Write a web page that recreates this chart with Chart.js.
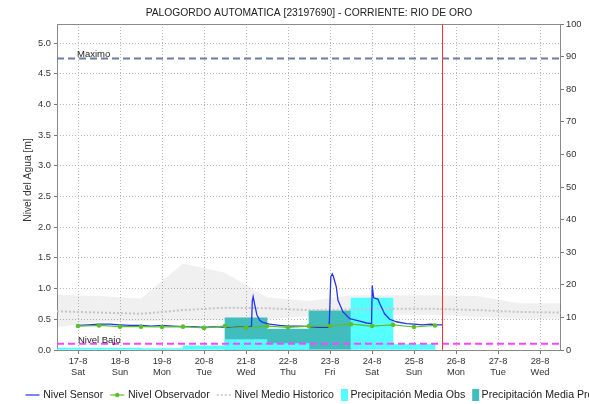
<!DOCTYPE html>
<html>
<head>
<meta charset="utf-8">
<script src="https://cdn.jsdelivr.net/npm/chart.js@4.4.1/dist/chart.umd.min.js"></script>
<style>
  html, body { margin: 0; padding: 0; background: #ffffff; overflow: hidden; }
  #grafico { display: block; }
</style>
</head>
<body>
<canvas id="grafico" width="589" height="404"></canvas>
<script>
// Días del eje X (día de agosto) y sus etiquetas
const dias = [17, 18, 19, 20, 21, 22, 23, 24, 25, 26, 27, 28];
const etiquetasDia = ['17-8', '18-8', '19-8', '20-8', '21-8', '22-8', '23-8', '24-8', '25-8', '26-8', '27-8', '28-8'];
const diasSemana = ['Sat', 'Sun', 'Mon', 'Tue', 'Wed', 'Thu', 'Fri', 'Sat', 'Sun', 'Mon', 'Tue', 'Wed'];

// Marcas del eje de nivel [m] y del eje de precipitación [mm]
const ticksNivel = [0, 0.5, 1, 1.5, 2, 2.5, 3, 3.5, 4, 4.5, 5];
const ticksPrecip = [0, 10, 20, 30, 40, 50, 60, 70, 80, 90, 100];

// Umbrales y hora actual (día decimal)
const nivelMaximo = 4.75;
const nivelBajo = 0.1;
const horaActual = 25.667;

// Nivel Sensor (tiempo en días decimales, nivel en m)
const sensorTiempo = [17.00, 17.25, 17.50, 17.75, 18.00, 18.25, 18.50, 18.75, 19.00, 19.25, 19.50, 19.75,
  20.00, 20.25, 20.50, 20.75, 21.00, 21.13, 21.15, 21.17, 21.21, 21.26, 21.33, 21.40, 21.56, 21.80,
  22.00, 22.30, 22.50, 22.70, 22.85, 22.98, 23.02, 23.055, 23.08, 23.15, 23.19, 23.31, 23.47, 23.71,
  23.87, 23.99, 24.005, 24.04, 24.14, 24.18, 24.30, 24.42, 24.58, 24.82, 25.00, 25.20, 25.40, 25.55, 25.667];
const sensorNivel = [0.40, 0.41, 0.42, 0.42, 0.41, 0.40, 0.40, 0.39, 0.40, 0.39, 0.38, 0.38,
  0.37, 0.38, 0.37, 0.38, 0.37, 0.38, 0.80, 0.87, 0.73, 0.57, 0.48, 0.45, 0.42, 0.40,
  0.39, 0.39, 0.38, 0.37, 0.37, 0.37, 1.20, 1.24, 1.20, 1.03, 0.81, 0.62, 0.51, 0.47,
  0.44, 0.43, 1.05, 0.85, 0.83, 0.76, 0.59, 0.50, 0.46, 0.43, 0.42, 0.41, 0.42, 0.41, 0.41];

// Nivel Observador (dos lecturas por día)
const obsTiempo = [17, 17.5, 18, 18.5, 19, 19.5, 20, 20.5, 21, 21.5, 22, 22.5, 23, 23.5, 24, 24.5, 25, 25.5];
const obsNivel = [0.39, 0.40, 0.38, 0.38, 0.375, 0.38, 0.36, 0.39, 0.36, 0.39, 0.37, 0.39, 0.39, 0.42, 0.39, 0.41, 0.375, 0.40];

// Histórico: medio, máximo y mínimo
const histTiempo = [16.5, 17.5, 18.5, 19.5, 20.5, 21.5, 22.5, 23.5, 24.5, 25.5, 26.5, 27.5, 28.5];
const histMedio = [0.63, 0.61, 0.59, 0.65, 0.69, 0.68, 0.65, 0.66, 0.67, 0.67, 0.65, 0.62, 0.61];
const histMax = [0.90, 0.88, 0.84, 1.41, 1.26, 0.86, 0.80, 0.89, 0.89, 0.89, 0.88, 0.76, 0.76];
const histMin = [0.37, 0.46, 0.47, 0.48, 0.49, 0.50, 0.55, 0.58, 0.58, 0.57, 0.54, 0.51, 0.51];

// Precipitación media diaria [mm]
const precipObsDias = [17, 18, 19, 20, 21, 22, 23, 24, 25];
const precipObs = [0.6, 0.6, 0.4, 1.3, 3.2, 2.0, 0, 15.9, 1.7];
const precipPrDias = [21, 22, 23];
const precipPr = [9.9, 6.4, 12.0];

const titulo = 'PALOGORDO AUTOMATICA [23197690] - CORRIENTE: RIO DE ORO';
const tituloEjeNivel = 'Nivel del Agua [m]';
const tituloEjePrecip = 'Precipitación [mm]';

const fuente = "'Liberation Sans', Arial, sans-serif";
const colorSensor = '#2433ee';
const colorObs = '#5cbf2a';
const colorMedio = '#c4c4c4';
const colorPrecipObs = '#55ffff';
const colorPrecipPr = '#41bdbd';
const colorRejilla = '#b8b8b8';

const puntos = (xs, ys) => xs.map((x, i) => ({ x: x, y: ys[i] }));
const rectaHorizontal = (y) => [{ x: 16.5, y: y }, { x: 28.5, y: y }];

// Título, leyenda inferior, marco, etiquetas de umbral y línea de hora actual
const extras = {
  id: 'extras',
  beforeDatasetsDraw(chart) {
    const { ctx, chartArea: a } = chart;
    ctx.save();
    ctx.strokeStyle = '#8a8a8a';
    ctx.lineWidth = 1;
    ctx.strokeRect(Math.round(a.left) + 0.5, Math.round(a.top) + 0.5,
      Math.round(a.right - a.left) - 1, Math.round(a.bottom - a.top));
    ctx.restore();
  },
  afterDatasetsDraw(chart) {
    const { ctx, chartArea: a, scales } = chart;
    ctx.save();
    ctx.font = '9.5px ' + fuente;
    ctx.fillStyle = '#222';
    ctx.textBaseline = 'alphabetic';
    ctx.fillText('Maximo', a.left + 20, scales.y.getPixelForValue(nivelMaximo) - 1.2);
    ctx.fillText('Nivel Bajo', a.left + 21, scales.y.getPixelForValue(nivelBajo) - 1.2);
    const xr = Math.round(scales.x.getPixelForValue(horaActual)) + 0.5;
    ctx.strokeStyle = '#ff3030';
    ctx.lineWidth = 1;
    ctx.beginPath();
    ctx.moveTo(xr, a.top);
    ctx.lineTo(xr, a.bottom);
    ctx.stroke();
    ctx.restore();
  },
  afterDraw(chart) {
    const { ctx, chartArea: a } = chart;
    ctx.save();
    ctx.fillStyle = '#222';
    ctx.font = '10.3px ' + fuente;
    ctx.textAlign = 'center';
    ctx.textBaseline = 'middle';
    ctx.fillText(titulo, (a.left + a.right) / 2, 13.5);

    ctx.fillStyle = '#333';
    ctx.save();
    ctx.translate(28, 180);
    ctx.rotate(-Math.PI / 2);
    ctx.fillText(tituloEjeNivel, 0, 0);
    ctx.restore();

    // título del eje derecho: queda casi entero fuera del lienzo
    ctx.save();
    ctx.translate(597, 187);
    ctx.rotate(-Math.PI / 2);
    ctx.textBaseline = 'alphabetic';
    ctx.fillText(tituloEjePrecip, 0, 0);
    ctx.restore();
    ctx.restore();

    ctx.save();
    ctx.font = '10.6px ' + fuente;
    ctx.textBaseline = 'middle';
    const y = 395;
    const items = [
      { tipo: 'linea', color: colorSensor, texto: 'Nivel Sensor' },
      { tipo: 'punto', color: colorObs, texto: 'Nivel Observador' },
      { tipo: 'guion', color: colorMedio, texto: 'Nivel Medio Historico' },
      { tipo: 'caja', color: colorPrecipObs, texto: 'Precipitación Media Obs' },
      { tipo: 'caja', color: colorPrecipPr, texto: 'Precipitación Media Pronosticada' }
    ];
    let x = 25.5;
    items.forEach(it => {
      let ancho;
      if (it.tipo === 'caja') {
        ctx.fillStyle = it.color;
        ctx.fillRect(x, y - 6, 7, 12);
        ancho = 9.4;
      } else {
        ctx.strokeStyle = it.color;
        ctx.lineWidth = it.tipo === 'guion' ? 1.5 : 1.2;
        ctx.setLineDash(it.tipo === 'guion' ? [2, 2] : []);
        ctx.beginPath();
        ctx.moveTo(x, y);
        ctx.lineTo(x + 14, y);
        ctx.stroke();
        ctx.setLineDash([]);
        if (it.tipo === 'punto') {
          ctx.fillStyle = it.color;
          ctx.beginPath();
          ctx.arc(x + 7, y, 2.2, 0, Math.PI * 2);
          ctx.fill();
        }
        ancho = 17.7;
      }
      ctx.fillStyle = '#222';
      ctx.fillText(it.texto, x + ancho, y);
      x += ancho + ctx.measureText(it.texto).width + 7;
    });
    ctx.restore();
  }
};

const linea = (extra) => Object.assign({ type: 'line', yAxisID: 'y', pointRadius: 0, tension: 0, fill: false }, extra);

new Chart(document.getElementById('grafico'), {
  type: 'bar',
  data: {
    datasets: [
      linea({ label: 'Nivel Observador', data: puntos(obsTiempo, obsNivel), borderColor: colorObs,
        backgroundColor: colorObs, borderWidth: 1.2, pointRadius: 2.3, pointBorderWidth: 0,
        pointBackgroundColor: colorObs, order: 1 }),
      linea({ label: 'Nivel Sensor', data: puntos(sensorTiempo, sensorNivel), borderColor: colorSensor,
        borderWidth: 1.3, order: 2 }),
      linea({ label: 'Maximo', data: rectaHorizontal(nivelMaximo), borderColor: '#6e7ba3',
        borderWidth: 2, borderDash: [7, 4], order: 0 }),
      linea({ label: 'Nivel Bajo', data: rectaHorizontal(nivelBajo), borderColor: '#ff44ff',
        borderWidth: 2, borderDash: [7, 4], order: 0 }),
      linea({ label: 'Nivel Medio Historico', data: puntos(histTiempo, histMedio), borderColor: colorMedio,
        borderWidth: 2, borderDash: [2, 2], order: 3 }),
      { type: 'bar', label: 'Precipitación Media Obs', yAxisID: 'y1', data: puntos(precipObsDias, precipObs),
        backgroundColor: colorPrecipObs, borderWidth: 0, grouped: false, barPercentage: 1,
        categoryPercentage: 1, order: 4 },
      { type: 'bar', label: 'Precipitación Media Pronosticada', yAxisID: 'y1', data: puntos(precipPrDias, precipPr),
        backgroundColor: colorPrecipPr, borderWidth: 0, grouped: false, barPercentage: 1,
        categoryPercentage: 1, order: 5 },
      linea({ label: 'Máximo Historico', data: puntos(histTiempo, histMax), borderColor: 'rgba(0,0,0,0)',
        borderWidth: 1, fill: '+1', backgroundColor: 'rgba(0,0,0,0.06)', order: 6 }),
      linea({ label: 'Mínimo Historico', data: puntos(histTiempo, histMin), borderColor: 'rgba(0,0,0,0)',
        borderWidth: 1, order: 7 })
    ]
  },
  options: {
    responsive: false,
    animation: false,
    devicePixelRatio: 1,
    layout: { padding: { top: 24, left: 0, right: 0, bottom: 0 } },
    plugins: {
      legend: { display: false },
      tooltip: { enabled: false },
      title: { display: false }
    },
    scales: {
      x: {
        type: 'linear',
        min: 16.5,
        max: 28.5,
        offset: false,
        afterBuildTicks: (s) => { s.ticks = dias.map(v => ({ value: v })); },
        afterFit: (s) => { s.height = 54; },
        grid: { offset: false, color: colorRejilla, lineWidth: 1, tickLength: 4, tickColor: '#777' },
        border: { display: false, dash: [1, 2] },
        ticks: {
          autoSkip: false, maxRotation: 0, padding: 2, color: '#333',
          font: { family: fuente, size: 9.3, lineHeight: 1.2 },
          callback: (v) => {
            const i = dias.indexOf(v);
            return i < 0 ? '' : [etiquetasDia[i], diasSemana[i]];
          }
        }
      },
      y: {
        position: 'left',
        min: 0,
        max: 5.31,
        afterBuildTicks: (s) => { s.ticks = ticksNivel.map(v => ({ value: v })); },
        afterFit: (s) => { s.width = 57; },
        grid: { color: colorRejilla, lineWidth: 1, tickLength: 3, tickColor: '#777' },
        border: { display: false, dash: [1, 2] },
        ticks: {
          padding: 3, color: '#333',
          font: { family: fuente, size: 9.3 },
          callback: (v) => v.toFixed(1)
        }
      },
      y1: {
        position: 'right',
        min: 0,
        max: 100,
        afterBuildTicks: (s) => { s.ticks = ticksPrecip.map(v => ({ value: v })); },
        afterFit: (s) => { s.width = 28; },
        grid: { drawOnChartArea: false, tickLength: 3, tickColor: '#777' },
        border: { display: false },
        ticks: {
          padding: 2, color: '#333',
          font: { family: fuente, size: 9.3 },
          callback: (v) => String(v)
        }
      }
    }
  },
  plugins: [extras]
});
</script>
</body>
</html>
